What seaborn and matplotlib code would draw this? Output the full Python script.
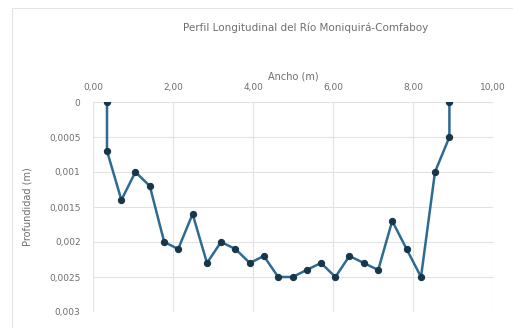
import matplotlib
matplotlib.use("Agg")
import matplotlib.pyplot as plt
import seaborn as sns
import pandas as pd
from matplotlib.ticker import FuncFormatter
from matplotlib.patches import Rectangle

# Cross-section survey: width position (m) and depth (m)
ancho = [0.35, 0.35, 0.71, 1.06, 1.42, 1.78, 2.13, 2.49, 2.85, 3.20, 3.56, 3.92,
         4.27, 4.63, 4.99, 5.34, 5.70, 6.06, 6.41, 6.77, 7.13, 7.48, 7.84, 8.20,
         8.55, 8.91, 8.91]
profundidad = [0.0, 0.0007, 0.0014, 0.0010, 0.0012, 0.0020, 0.0021, 0.0016, 0.0023,
               0.0020, 0.0021, 0.0023, 0.0022, 0.0025, 0.0025, 0.0024, 0.0023, 0.0025,
               0.0022, 0.0023, 0.0024, 0.0017, 0.0021, 0.0025, 0.0010, 0.0005, 0.0]
x_ticks = [0, 2, 4, 6, 8, 10]
y_ticks = [0, 0.0005, 0.001, 0.0015, 0.002, 0.0025, 0.003]
y_labels = ["0", "0,0005", "0,001", "0,0015", "0,002", "0,0025", "0,003"]

df = pd.DataFrame({"Ancho": ancho, "Profundidad": profundidad})

sns.set_theme(style="whitegrid")
plt.rcParams["font.family"] = ["DejaVu Sans"]

fig = plt.figure(figsize=(5.13, 3.28), dpi=100)
ax = fig.add_axes([93 / 513, 1 - 312 / 328, 400 / 513, 210 / 328])

sns.lineplot(data=df, x="Ancho", y="Profundidad", ax=ax, sort=False, estimator=None,
             color="#2F6B91", linewidth=1.8, marker="o", markersize=4.5,
             markerfacecolor="#17364A", markeredgecolor="#17364A")

ax.set_xlim(0, 10)
ax.set_ylim(0.003, 0)
ax.xaxis.tick_top()
ax.xaxis.set_label_position("top")
ax.set_xticks(x_ticks)
ax.xaxis.set_major_formatter(FuncFormatter(lambda v, p: f"{v:.2f}".replace(".", ",")))
ax.set_yticks(y_ticks)
ax.set_yticklabels(y_labels)

grey = "#6E6E6E"
ax.tick_params(axis="x", labelsize=6.5, colors=grey, length=0, pad=7)
ax.tick_params(axis="y", labelsize=6.5, colors=grey, length=0, pad=9)
ax.set_xlabel("Ancho (m)", fontsize=7, color=grey, labelpad=3)
ax.set_ylabel("Profundidad (m)", fontsize=7, color=grey, labelpad=12)

ax.grid(True, color="#E2E2E2", linewidth=0.8)
for s in ax.spines.values():
    s.set_visible(False)
ax.set_facecolor("white")

fig.text(0.595, 1 - 28 / 328, "Perfil Longitudinal del Río Moniquirá-Comfaboy",
         ha="center", va="center", fontsize=7.5, color=grey)

# light chart-area frame
fig.patches.append(Rectangle((12 / 513, 0.0), 1.2, 1 - 8 / 328, transform=fig.transFigure,
                             fill=False, edgecolor="#E4E4E4", linewidth=0.8))

fig.savefig("out.png", dpi=100)
